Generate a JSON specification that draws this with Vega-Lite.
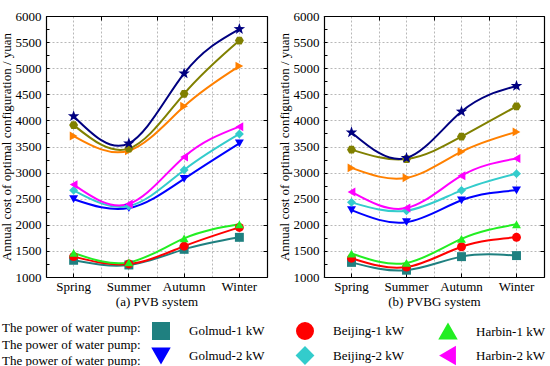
{
  "$schema": "https://vega.github.io/schema/vega-lite/v6.json",
  "width": 498, "height": 261,
  "padding": {"left": 0, "top": 10, "right": 4, "bottom": 2},
  "config": {
    "font": "Liberation Serif",
    "view": {"stroke": null},
    "axis": {"labelFont": "Liberation Serif", "titleFont": "Liberation Serif", "labelFontSize": 13, "titleFontSize": 13, "titleFontWeight": "normal", "labelColor": "black", "titleColor": "black", "domainColor": "black", "domainWidth": 1.2, "tickColor": "black", "gridColor": "#b8b8b8", "gridDash": [2, 2], "gridWidth": 1},
    "legend": {"labelFont": "Liberation Serif", "titleFont": "Liberation Serif", "labelFontSize": 13, "titleFontSize": 13, "titleFontWeight": "normal", "labelColor": "black", "titleColor": "black"}
  },
  "data": {"values": [
      {"system": "PVB", "series": "Golmud-1 kW", "season": "Spring", "cost": 1320},
      {"system": "PVB", "series": "Golmud-1 kW", "season": "Summer", "cost": 1230},
      {"system": "PVB", "series": "Golmud-1 kW", "season": "Autumn", "cost": 1530},
      {"system": "PVB", "series": "Golmud-1 kW", "season": "Winter", "cost": 1760},
      {"system": "PVB", "series": "Beijing-1 kW", "season": "Spring", "cost": 1390},
      {"system": "PVB", "series": "Beijing-1 kW", "season": "Summer", "cost": 1250},
      {"system": "PVB", "series": "Beijing-1 kW", "season": "Autumn", "cost": 1590},
      {"system": "PVB", "series": "Beijing-1 kW", "season": "Winter", "cost": 1950},
      {"system": "PVB", "series": "Harbin-1 kW", "season": "Spring", "cost": 1460},
      {"system": "PVB", "series": "Harbin-1 kW", "season": "Summer", "cost": 1280},
      {"system": "PVB", "series": "Harbin-1 kW", "season": "Autumn", "cost": 1740},
      {"system": "PVB", "series": "Harbin-1 kW", "season": "Winter", "cost": 2010},
      {"system": "PVB", "series": "Golmud-2 kW", "season": "Spring", "cost": 2490},
      {"system": "PVB", "series": "Golmud-2 kW", "season": "Summer", "cost": 2320},
      {"system": "PVB", "series": "Golmud-2 kW", "season": "Autumn", "cost": 2880},
      {"system": "PVB", "series": "Golmud-2 kW", "season": "Winter", "cost": 3560},
      {"system": "PVB", "series": "Beijing-2 kW", "season": "Spring", "cost": 2660},
      {"system": "PVB", "series": "Beijing-2 kW", "season": "Summer", "cost": 2360},
      {"system": "PVB", "series": "Beijing-2 kW", "season": "Autumn", "cost": 3050},
      {"system": "PVB", "series": "Beijing-2 kW", "season": "Winter", "cost": 3740},
      {"system": "PVB", "series": "Harbin-2 kW", "season": "Spring", "cost": 2770},
      {"system": "PVB", "series": "Harbin-2 kW", "season": "Summer", "cost": 2400},
      {"system": "PVB", "series": "Harbin-2 kW", "season": "Autumn", "cost": 3300},
      {"system": "PVB", "series": "Harbin-2 kW", "season": "Winter", "cost": 3880},
      {"system": "PVB", "series": "Golmud-3 kW", "season": "Spring", "cost": 3700},
      {"system": "PVB", "series": "Golmud-3 kW", "season": "Summer", "cost": 3420},
      {"system": "PVB", "series": "Golmud-3 kW", "season": "Autumn", "cost": 4270},
      {"system": "PVB", "series": "Golmud-3 kW", "season": "Winter", "cost": 5040},
      {"system": "PVB", "series": "Beijing-3 kW", "season": "Spring", "cost": 3910},
      {"system": "PVB", "series": "Beijing-3 kW", "season": "Summer", "cost": 3460},
      {"system": "PVB", "series": "Beijing-3 kW", "season": "Autumn", "cost": 4510},
      {"system": "PVB", "series": "Beijing-3 kW", "season": "Winter", "cost": 5530},
      {"system": "PVB", "series": "Harbin-3 kW", "season": "Spring", "cost": 4080},
      {"system": "PVB", "series": "Harbin-3 kW", "season": "Summer", "cost": 3560},
      {"system": "PVB", "series": "Harbin-3 kW", "season": "Autumn", "cost": 4900},
      {"system": "PVB", "series": "Harbin-3 kW", "season": "Winter", "cost": 5750},
      {"system": "PVBG", "series": "Golmud-1 kW", "season": "Spring", "cost": 1280},
      {"system": "PVBG", "series": "Golmud-1 kW", "season": "Summer", "cost": 1130},
      {"system": "PVBG", "series": "Golmud-1 kW", "season": "Autumn", "cost": 1390},
      {"system": "PVBG", "series": "Golmud-1 kW", "season": "Winter", "cost": 1410},
      {"system": "PVBG", "series": "Beijing-1 kW", "season": "Spring", "cost": 1360},
      {"system": "PVBG", "series": "Beijing-1 kW", "season": "Summer", "cost": 1190},
      {"system": "PVBG", "series": "Beijing-1 kW", "season": "Autumn", "cost": 1580},
      {"system": "PVBG", "series": "Beijing-1 kW", "season": "Winter", "cost": 1760},
      {"system": "PVBG", "series": "Harbin-1 kW", "season": "Spring", "cost": 1450},
      {"system": "PVBG", "series": "Harbin-1 kW", "season": "Summer", "cost": 1270},
      {"system": "PVBG", "series": "Harbin-1 kW", "season": "Autumn", "cost": 1730},
      {"system": "PVBG", "series": "Harbin-1 kW", "season": "Winter", "cost": 2010},
      {"system": "PVBG", "series": "Golmud-2 kW", "season": "Spring", "cost": 2280},
      {"system": "PVBG", "series": "Golmud-2 kW", "season": "Summer", "cost": 2050},
      {"system": "PVBG", "series": "Golmud-2 kW", "season": "Autumn", "cost": 2470},
      {"system": "PVBG", "series": "Golmud-2 kW", "season": "Winter", "cost": 2660},
      {"system": "PVBG", "series": "Beijing-2 kW", "season": "Spring", "cost": 2430},
      {"system": "PVBG", "series": "Beijing-2 kW", "season": "Summer", "cost": 2270},
      {"system": "PVBG", "series": "Beijing-2 kW", "season": "Autumn", "cost": 2660},
      {"system": "PVBG", "series": "Beijing-2 kW", "season": "Winter", "cost": 2980},
      {"system": "PVBG", "series": "Harbin-2 kW", "season": "Spring", "cost": 2630},
      {"system": "PVBG", "series": "Harbin-2 kW", "season": "Summer", "cost": 2320},
      {"system": "PVBG", "series": "Harbin-2 kW", "season": "Autumn", "cost": 2940},
      {"system": "PVBG", "series": "Harbin-2 kW", "season": "Winter", "cost": 3270},
      {"system": "PVBG", "series": "Golmud-3 kW", "season": "Spring", "cost": 3090},
      {"system": "PVBG", "series": "Golmud-3 kW", "season": "Summer", "cost": 2900},
      {"system": "PVBG", "series": "Golmud-3 kW", "season": "Autumn", "cost": 3400},
      {"system": "PVBG", "series": "Golmud-3 kW", "season": "Winter", "cost": 3780},
      {"system": "PVBG", "series": "Beijing-3 kW", "season": "Spring", "cost": 3440},
      {"system": "PVBG", "series": "Beijing-3 kW", "season": "Summer", "cost": 3260},
      {"system": "PVBG", "series": "Beijing-3 kW", "season": "Autumn", "cost": 3690},
      {"system": "PVBG", "series": "Beijing-3 kW", "season": "Winter", "cost": 4270},
      {"system": "PVBG", "series": "Harbin-3 kW", "season": "Spring", "cost": 3770},
      {"system": "PVBG", "series": "Harbin-3 kW", "season": "Summer", "cost": 3280},
      {"system": "PVBG", "series": "Harbin-3 kW", "season": "Autumn", "cost": 4170},
      {"system": "PVBG", "series": "Harbin-3 kW", "season": "Winter", "cost": 4660}
  ]},
  "resolve": {"scale": {"x": "independent"}, "axis": {"x": "independent", "y": "independent"}},
  "layer": [
    {
      "transform": [{"filter": "datum.system === 'PVB'"}],
      "mark": {"type": "line", "interpolate": "natural", "strokeWidth": 2},
      "encoding": {
        "x": {"field": "season", "type": "nominal", "bandPosition": 0.5, "sort": ["Spring", "Summer", "Autumn", "Winter"], "scale": {"type": "band", "paddingInner": 0, "paddingOuter": 0, "range": [0, 221]}, "axis": {"orient": "bottom", "title": "(a) PVB system", "labelAngle": 0, "bandPosition": 0.5, "tickSize": -4, "grid": true, "labelPadding": 7, "titlePadding": 2}},
        "y": {"field": "cost", "type": "quantitative", "scale": {"domain": [1000, 6000], "nice": false, "zero": false}, "axis": {"orient": "left", "values": [1000, 1250, 1500, 1750, 2000, 2250, 2500, 2750, 3000, 3250, 3500, 3750, 4000, 4250, 4500, 4750, 5000, 5250, 5500, 5750, 6000], "labelExpr": "datum.value % 500 === 0 ? datum.value : ''", "tickSize": -3, "grid": false, "labelPadding": 8, "title": "Annual cost  of optimal configuration / yuan", "titlePadding": 2}},
        "color": {"field": "series", "type": "nominal", "scale": {"domain": ["Golmud-1 kW", "Golmud-2 kW", "Golmud-3 kW", "Beijing-1 kW", "Beijing-2 kW", "Beijing-3 kW", "Harbin-1 kW", "Harbin-2 kW", "Harbin-3 kW"], "range": ["#1f8080", "#0000ff", "#ff8000", "#ff0000", "#33cccc", "#808000", "#22ee22", "#ff00ff", "#000080"]},
          "legend": {"orient": "none", "legendX": -44, "legendY": 306, "columns": 3, "columnPadding": 28, "rowPadding": 0.5, "title": ["The power of  water pump:", "The power of  water pump:", "The power of  water pump:"], "titleOrient": "left", "titleBaseline": "top", "titleAnchor": "start", "titleLineHeight": 16.5, "titlePadding": 8, "symbolSize": 256, "symbolStrokeWidth": 2, "labelOffset": 19,
            "encoding": {"symbols": {
              "shape": {"signal": "datum.value === 'Golmud-1 kW' ? 'M-1,0H3M0.45,-0.55H1.55V0.55H0.45Z' : datum.value === 'Beijing-1 kW' ? 'M-1,0H3M1.6,0L1.424,0.424L1,0.6L0.576,0.424L0.4,0L0.576,-0.424L1,-0.6L1.424,-0.424Z' : datum.value === 'Harbin-1 kW' ? 'M-1,0H3M0.35,0.5H1.65L1,-0.65Z' : datum.value === 'Golmud-2 kW' ? 'M-1,0H3M0.35,-0.5H1.65L1,0.65Z' : datum.value === 'Beijing-2 kW' ? 'M-1,0H3M1,-0.7L1.6,0L1,0.7L0.4,0Z' : datum.value === 'Harbin-2 kW' ? 'M-1,0H3M1.55,-0.65V0.65L0.4,0Z' : datum.value === 'Golmud-3 kW' ? 'M-1,0H3M0.45,-0.65V0.65L1.6,0Z' : datum.value === 'Beijing-3 kW' ? 'M-1,0H3M1.6,0L1.3,0.52L0.7,0.52L0.4,0L0.7,-0.52L1.3,-0.52Z' : 'M-1,0H3M1,-0.75L1.176,-0.243L1.713,-0.232L1.285,0.093L1.441,0.607L1,0.3L0.559,0.607L0.715,0.093L0.287,-0.232L0.824,-0.243Z'"},
              "fill": {"signal": "scale('color', datum.value)"},
              "stroke": {"signal": "scale('color', datum.value)"},
              "opacity": {"value": 1}
            }}}}
      }
    },
    {
      "transform": [{"filter": "datum.system === 'PVB'"}],
      "mark": {"type": "point", "filled": true, "size": 80, "opacity": 1},
      "encoding": {
        "x": {"field": "season", "type": "nominal", "bandPosition": 0.5, "sort": ["Spring", "Summer", "Autumn", "Winter"], "scale": {"type": "band", "paddingInner": 0, "paddingOuter": 0, "range": [0, 221]}, "axis": {"orient": "top", "labels": false, "title": null, "tickSize": -4, "grid": true, "tickBand": "extent"}},
        "y": {"field": "cost", "type": "quantitative", "scale": {"domain": [1000, 6000], "nice": false, "zero": false}, "axis": {"orient": "right", "offset": -277, "labels": false, "title": null, "tickSize": -4, "grid": true, "values": [1000, 1500, 2000, 2500, 3000, 3500, 4000, 4500, 5000, 5500, 6000]}},
        "color": {"field": "series", "type": "nominal"},
        "shape": {"field": "series", "type": "nominal", "scale": {"domain": ["Golmud-1 kW", "Golmud-2 kW", "Golmud-3 kW", "Beijing-1 kW", "Beijing-2 kW", "Beijing-3 kW", "Harbin-1 kW", "Harbin-2 kW", "Harbin-3 kW"], "range": ["square", "triangle-down", "triangle-right", "circle", "diamond", "M-1,0L-0.5,-0.866L0.5,-0.866L1,0L0.5,0.866L-0.5,0.866Z", "triangle-up", "triangle-left", "M0,-1.35L0.323,-0.445L1.284,-0.417L0.523,0.17L0.794,1.092L0,0.55L-0.794,1.092L-0.523,0.17L-1.284,-0.417L-0.323,-0.445Z"]}, "legend": null}
      }
    },
    {
      "transform": [{"filter": "datum.system === 'PVBG'"}],
      "mark": {"type": "line", "interpolate": "natural", "strokeWidth": 2},
      "encoding": {
        "x": {"field": "season", "type": "nominal", "bandPosition": 0.5, "sort": ["Spring", "Summer", "Autumn", "Winter"], "scale": {"type": "band", "paddingInner": 0, "paddingOuter": 0, "range": [278, 498]}, "axis": {"orient": "bottom", "title": "(b) PVBG system", "labelAngle": 0, "bandPosition": 0.5, "tickSize": -4, "grid": true, "labelPadding": 7, "titlePadding": 2}},
        "y": {"field": "cost", "type": "quantitative", "scale": {"domain": [1000, 6000], "nice": false, "zero": false}, "axis": {"orient": "left", "offset": -278, "values": [1000, 1250, 1500, 1750, 2000, 2250, 2500, 2750, 3000, 3250, 3500, 3750, 4000, 4250, 4500, 4750, 5000, 5250, 5500, 5750, 6000], "labelExpr": "datum.value % 500 === 0 ? datum.value : ''", "tickSize": -3, "grid": false, "labelPadding": 8, "title": "Annual cost  of optimal configuration / yuan", "titlePadding": 2}},
        "color": {"field": "series", "type": "nominal"}
      }
    },
    {
      "transform": [{"filter": "datum.system === 'PVBG'"}],
      "mark": {"type": "point", "filled": true, "size": 80, "opacity": 1},
      "encoding": {
        "x": {"field": "season", "type": "nominal", "bandPosition": 0.5, "sort": ["Spring", "Summer", "Autumn", "Winter"], "scale": {"type": "band", "paddingInner": 0, "paddingOuter": 0, "range": [278, 498]}, "axis": {"orient": "top", "labels": false, "title": null, "tickSize": -4, "grid": true, "tickBand": "extent"}},
        "y": {"field": "cost", "type": "quantitative", "scale": {"domain": [1000, 6000], "nice": false, "zero": false}, "axis": {"orient": "right", "labels": false, "title": null, "tickSize": -4, "grid": true, "values": [1000, 1500, 2000, 2500, 3000, 3500, 4000, 4500, 5000, 5500, 6000]}},
        "color": {"field": "series", "type": "nominal"},
        "shape": {"field": "series", "type": "nominal", "legend": null}
      }
    }
  ]
}
